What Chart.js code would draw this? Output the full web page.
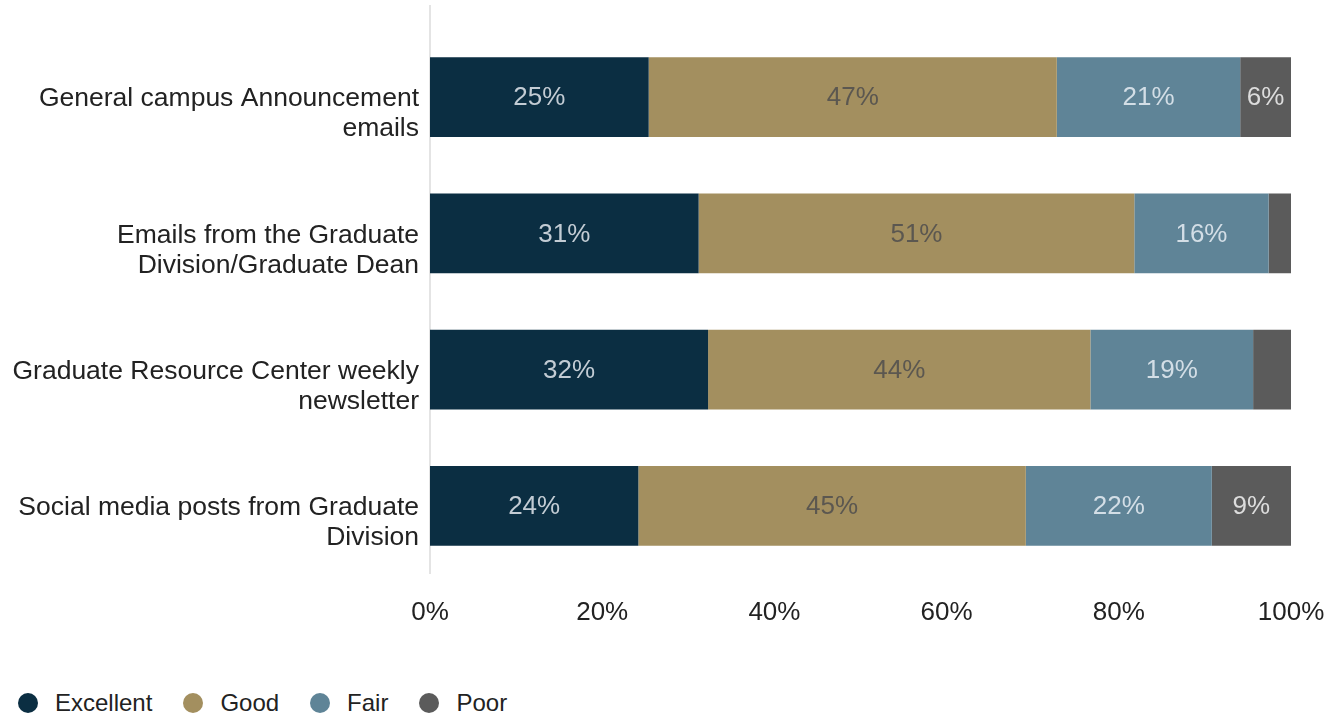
<!DOCTYPE html>
<html>
<head>
<meta charset="utf-8">
<script src="https://cdn.jsdelivr.net/npm/chart.js@4.4.0/dist/chart.umd.min.js"></script>
<style>
  html, body { margin: 0; padding: 0; background: #fff; }
  body { width: 1337px; height: 715px; position: relative; overflow: hidden; font-family: "Liberation Sans", Arial, sans-serif; }
  #wrap { position: absolute; left: 0; top: 0; width: 1337px; height: 672px; }
  #legend { position: absolute; left: 18px; top: 689px; display: flex; align-items: center; font-size: 24px; color: #222; }
  #legend .item { display: flex; align-items: center; margin-right: 31px; }
  #legend .dot { width: 20px; height: 20px; border-radius: 50%; margin-right: 17px; }
</style>
</head>
<body>
<div id="wrap"><canvas id="grafica"></canvas></div>
<div id="legend"></div>

<script>
// datos
const categorias = [
    ["General campus Announcement", "emails"],
    ["Emails from the Graduate", "Division/Graduate Dean"],
    ["Graduate Resource Center weekly", "newsletter"],
    ["Social media posts from Graduate", "Division"]
];
const excelente = [25.4, 31.2, 32.3, 24.2];
const bueno     = [47.4, 50.6, 44.4, 45.0];
const regular   = [21.3, 15.6, 18.9, 21.6];
const pobre     = [5.9, 2.6, 4.4, 9.2];
const ticksX    = ["0%", "20%", "40%", "60%", "80%", "100%"];

const series = [
    { label: "Excellent", data: excelente, color: "#0b2e42", texto: "#c3ccd4" },
    { label: "Good",      data: bueno,     color: "#a38f5f", texto: "#5b5750" },
    { label: "Fair",      data: regular,   color: "#5f8497", texto: "#d3dee6" },
    { label: "Poor",      data: pobre,     color: "#5b5b5b", texto: "#dcdcdc" }
];

// etiquetas dentro de las barras
const etiquetas = {
    id: "etiquetas",
    afterDatasetsDraw(chart) {
        const ctx = chart.ctx;
        ctx.save();
        ctx.font = "26px 'Liberation Sans', Arial, sans-serif";
        ctx.textAlign = "center";
        ctx.textBaseline = "middle";
        chart.data.datasets.forEach((ds, i) => {
            const meta = chart.getDatasetMeta(i);
            meta.data.forEach((bar, j) => {
                const v = ds.data[j];
                if (v < 5) return;
                const p = bar.getCenterPoint();
                ctx.fillStyle = series[i].texto;
                ctx.fillText(Math.round(v) + "%", p.x, p.y + 1);
            });
        });
        ctx.restore();
    }
};

// linea vertical en 0%
const lineaCero = {
    id: "lineaCero",
    beforeDatasetsDraw(chart) {
        const ctx = chart.ctx;
        const x = chart.scales.x.getPixelForValue(0);
        ctx.save();
        ctx.strokeStyle = "#e4e4e4";
        ctx.lineWidth = 2;
        ctx.beginPath();
        ctx.moveTo(x, 5);
        ctx.lineTo(x, chart.chartArea.bottom);
        ctx.stroke();
        ctx.restore();
    }
};

const ctx = document.getElementById("grafica").getContext("2d");

new Chart(ctx, {
    type: "bar",
    data: {
        labels: categorias,
        datasets: series.map(s => ({
            label: s.label,
            data: s.data,
            backgroundColor: s.color,
            borderWidth: 0,
            barPercentage: 1,
            categoryPercentage: 0.587
        }))
    },
    options: {
        indexAxis: "y",
        responsive: true,
        maintainAspectRatio: false,
        animation: false,
        layout: { padding: { top: 29, right: 46, bottom: 44, left: 10 } },
        plugins: {
            legend: { display: false },
            tooltip: { enabled: false }
        },
        scales: {
            x: {
                stacked: true,
                min: 0,
                max: 100,
                grid: { display: false, drawTicks: false },
                border: { display: false },
                ticks: {
                    stepSize: 20,
                    padding: 23,
                    color: "#222",
                    font: { family: "'Liberation Sans', Arial, sans-serif", size: 26 },
                    callback: (v, i) => ticksX[i]
                },
                afterFit(scale) {
                    scale.height = 54;
                    scale.paddingLeft = 0;
                    scale.paddingRight = 0;
                }
            },
            y: {
                stacked: true,
                grid: { display: false, drawTicks: false },
                border: { display: false },
                ticks: {
                    padding: 11,
                    labelOffset: 17,
                    color: "#222",
                    font: { family: "'Liberation Sans', Arial, sans-serif", size: 26.5, lineHeight: 1.13 }
                },
                afterFit(scale) {
                    scale.width = 420;
                    scale.paddingTop = 0;
                    scale.paddingBottom = 0;
                }
            }
        }
    },
    plugins: [lineaCero, etiquetas]
});

// leyenda
const leyenda = document.getElementById("legend");
series.forEach(s => {
    const item = document.createElement("div");
    item.className = "item";
    item.innerHTML = '<span class="dot" style="background:' + s.color + '"></span>' + s.label;
    leyenda.appendChild(item);
});
</script>
</body>
</html>
